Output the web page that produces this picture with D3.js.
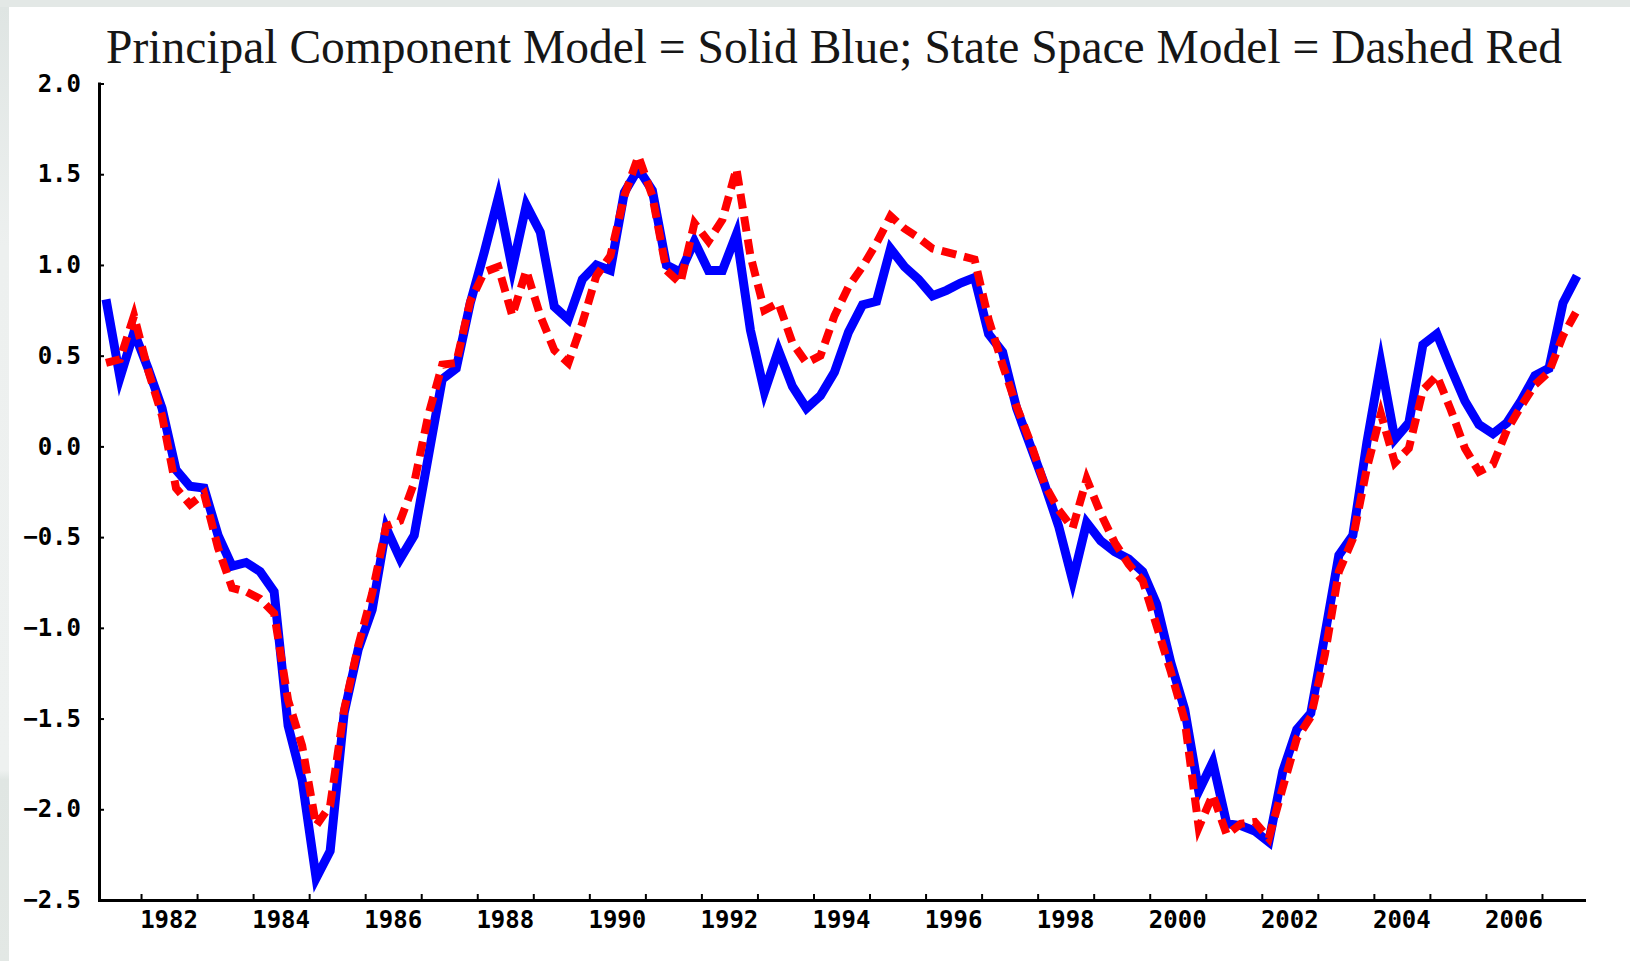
<!DOCTYPE html>
<html>
<head>
<meta charset="utf-8">
<script src="https://cdn.jsdelivr.net/npm/d3@7"></script>
<style>
  body { margin: 0; background: #e4e9e7; overflow: hidden; }
  figure { margin: 0; }
  svg { display: block; }
</style>
</head>
<body>
<figure id="factorChart"></figure>
<script>
// quarterly observations, 1981Q2 .. 2007Q3, plotted at mid-quarter
const firstQuarter = 1981.375;
const quarterStep = 0.25;

// Principal Component Model (solid blue)
const pcModel = [
  0.81, 0.38, 0.63, 0.43, 0.21, -0.13, -0.22, -0.23, -0.49, -0.66,
  -0.64, -0.69, -0.80, -1.54, -1.84, -2.38, -2.23, -1.47, -1.12, -0.90,
  -0.45, -0.62, -0.49, -0.06, 0.37, 0.43, 0.79, 1.07, 1.37, 0.98,
  1.33, 1.18, 0.77, 0.70, 0.92, 1.00, 0.97, 1.40, 1.53, 1.41,
  1.00, 0.96, 1.13, 0.97, 0.97, 1.17, 0.64, 0.30, 0.53, 0.33,
  0.21, 0.28, 0.41, 0.63, 0.78, 0.80, 1.09, 0.99, 0.92, 0.83,
  0.86, 0.90, 0.93, 0.62, 0.52, 0.21, 0.00, -0.21, -0.44, -0.74,
  -0.42, -0.52, -0.58, -0.62, -0.69, -0.87, -1.19, -1.45, -1.90, -1.74,
  -2.08, -2.09, -2.12, -2.18, -1.79, -1.56, -1.47, -1.04, -0.60, -0.49,
  0.02, 0.46, 0.04, 0.13, 0.56, 0.62, 0.43, 0.25, 0.12, 0.07,
  0.13, 0.25, 0.39, 0.43, 0.79, 0.94
];

// State Space Model (dashed red)
const ssModel = [
  0.46, 0.48, 0.72, 0.42, 0.17, -0.23, -0.32, -0.26, -0.56, -0.78,
  -0.80, -0.84, -0.92, -1.40, -1.65, -2.09, -1.98, -1.45, -1.10, -0.81,
  -0.44, -0.41, -0.20, 0.17, 0.45, 0.46, 0.80, 0.96, 0.99, 0.72,
  0.97, 0.72, 0.53, 0.46, 0.68, 0.94, 1.05, 1.38, 1.60, 1.38,
  0.97, 0.90, 1.23, 1.13, 1.25, 1.53, 1.05, 0.75, 0.79, 0.57,
  0.46, 0.50, 0.72, 0.88, 0.99, 1.12, 1.27, 1.20, 1.15, 1.09,
  1.07, 1.05, 1.03, 0.70, 0.45, 0.22, 0.02, -0.21, -0.35, -0.45,
  -0.18, -0.37, -0.53, -0.65, -0.74, -0.99, -1.24, -1.51, -2.10, -1.92,
  -2.14, -2.08, -2.07, -2.16, -1.88, -1.61, -1.49, -1.15, -0.69, -0.51,
  -0.12, 0.18, -0.09, -0.01, 0.31, 0.39, 0.20, -0.01, -0.14, -0.10,
  0.09, 0.22, 0.34, 0.41, 0.61, 0.75
];

const yTicks = [-2.5, -2.0, -1.5, -1.0, -0.5, 0.0, 0.5, 1.0, 1.5, 2.0];
const xTickYears = [1982, 1983, 1984, 1985, 1986, 1987, 1988, 1989, 1990, 1991, 1992, 1993, 1994,
  1995, 1996, 1997, 1998, 1999, 2000, 2001, 2002, 2003, 2004, 2005, 2006, 2007];
const xLabelYears = [1982, 1984, 1986, 1988, 1990, 1992, 1994, 1996, 1998, 2000, 2002, 2004, 2006];
const xDomain = [1981.25, 2007.75];
const yDomain = [-2.5, 2.0];
const titleText = "Principal Component Model = Solid Blue; State Space Model = Dashed Red";

class FactorChart {

  constructor() {
    this.width = 1630;
    this.height = 961;
    this.margin = { top: 83.5, bottom: 61, left: 99, right: 46 };
  }

  init() {
    const figure = d3.select("figure#factorChart");
    this.svg = figure.append("svg")
      .attr("width", this.width)
      .attr("height", this.height);
    this.labelFont = "'DejaVu Sans Mono', monospace";
    this.titleFont = "'Liberation Serif', 'Times New Roman', serif";
    this.quarters = pcModel.map((d, i) => firstQuarter + i * quarterStep);
  }

  update() {
    this.drawBackground();
    this.drawGraph();
  }

  // slide-like frame around the white panel
  drawBackground() {
    const defs = this.svg.append("defs");
    const grad = defs.append("linearGradient")
      .attr("id", "edgeGrad")
      .attr("x1", 0).attr("x2", 0).attr("y1", 0).attr("y2", 1);
    [[0, "#dfe5e3"], [0.25, "#edf0ef"], [0.8, "#eef1f0"], [0.81, "#e0e6e3"], [1, "#e3e8e5"]]
      .forEach(s => grad.append("stop").attr("offset", s[0]).attr("stop-color", s[1]));

    this.svg.append("rect")
      .attr("width", this.width).attr("height", this.height)
      .attr("fill", "#e3e8e6");
    this.svg.append("rect")
      .attr("x", 0).attr("y", 7)
      .attr("width", 9).attr("height", this.height - 7)
      .attr("fill", "url(#edgeGrad)");
    this.svg.append("rect")
      .attr("x", 9).attr("y", 7)
      .attr("width", this.width - 9).attr("height", this.height - 7)
      .attr("fill", "#ffffff");
  }

  drawGraph() {
    const svg = this.svg;
    const left = this.margin.left;
    const right = this.width - this.margin.right;
    const top = this.margin.top;
    const bottom = this.height - this.margin.bottom;

    this.xScale = d3.scaleLinear().domain(xDomain).range([left, right]);
    this.yScale = d3.scaleLinear().domain(yDomain).range([bottom, top]);

    // title
    svg.append("text")
      .attr("x", 834)
      .attr("y", 63)
      .attr("text-anchor", "middle")
      .attr("font-family", this.titleFont)
      .attr("font-size", 47.5)
      .attr("fill", "#161616")
      .text(titleText);

    // lines
    const line = d3.line()
      .x((d, i) => this.xScale(this.quarters[i]))
      .y(d => this.yScale(d));

    svg.append("path")
      .attr("d", line(pcModel))
      .attr("fill", "none")
      .attr("stroke", "#0000ff")
      .attr("stroke-width", 9)
      .attr("stroke-linejoin", "miter")
      .attr("stroke-miterlimit", 6);

    svg.append("path")
      .attr("d", line(ssModel))
      .attr("fill", "none")
      .attr("stroke", "#ff0000")
      .attr("stroke-width", 8)
      .attr("stroke-dasharray", "15,8")
      .attr("stroke-linejoin", "miter");

    // Y Axis
    const yAxisGenerator = d3.axisLeft(this.yScale)
      .tickValues(yTicks)
      .tickSizeInner(-5)
      .tickSizeOuter(0)
      .tickPadding(18)
      .tickFormat(d3.format(".1f"));
    const yAxis = svg.append("g")
      .attr("transform", "translate(" + left + ",0)")
      .call(yAxisGenerator);
    yAxis.select(".domain")
      .attr("stroke", "#000")
      .attr("stroke-width", 3)
      .attr("stroke-linecap", "square");
    yAxis.selectAll(".tick line")
      .attr("stroke", "#000")
      .attr("stroke-width", 2);
    yAxis.selectAll(".tick text")
      .attr("font-family", this.labelFont)
      .attr("font-weight", "bold")
      .attr("font-size", 24)
      .attr("fill", "#000");

    // X Axis, ticks on year starts, labels centred in the year
    const xAxisGenerator = d3.axisBottom(this.xScale)
      .tickValues(xTickYears)
      .tickSizeInner(-6)
      .tickSizeOuter(0)
      .tickFormat("");
    const xAxis = svg.append("g")
      .attr("transform", "translate(0," + bottom + ")")
      .call(xAxisGenerator);
    xAxis.select(".domain")
      .attr("stroke", "#000")
      .attr("stroke-width", 3)
      .attr("stroke-linecap", "square");
    xAxis.selectAll(".tick line")
      .attr("stroke", "#000")
      .attr("stroke-width", 2);

    svg.append("g")
      .selectAll("text")
      .data(xLabelYears).enter()
      .append("text")
      .attr("x", d => this.xScale(d + 0.5))
      .attr("y", bottom + 28)
      .attr("text-anchor", "middle")
      .attr("font-family", this.labelFont)
      .attr("font-weight", "bold")
      .attr("font-size", 24)
      .attr("fill", "#000")
      .text(d => d);
  }
}

var factorChart = new FactorChart();
factorChart.init();
factorChart.update();
</script>
</body>
</html>
